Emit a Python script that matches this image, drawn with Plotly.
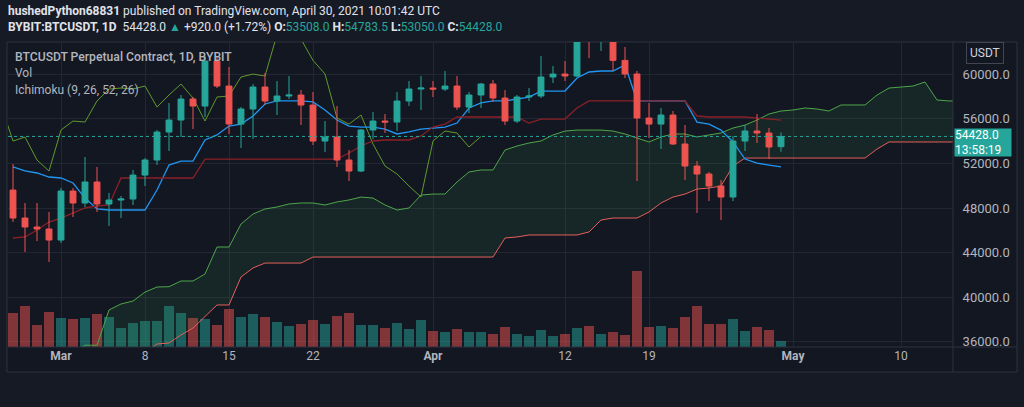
import pandas as pd
import plotly.graph_objects as go

# colours (TradingView dark theme)
BG = '#131722'
OUTER = '#161a25'
GRID = '#232733'
FRAME = '#2f333e'
TEXT = '#b2b5be'
UP = '#26a69a'
DOWN = '#ef5350'
FONT = 'Roboto'

# daily candles, Feb 25 - Apr 30 2021
dates = pd.date_range('2021-02-25', '2021-04-30', freq='D')

opens = [
    49620, 47110, 46305, 46125,
    45135, 49530, 48455, 50340, 48365, 48725, 48815, 50965, 52315, 54825,
    55900, 57785, 57155, 61190, 58950, 55540, 56890, 58860, 57605, 58055,
    58140, 57245, 54015, 54375, 52315, 51325, 55005, 55810, 55720, 57605, 58680,
    58770, 58680, 58950, 57065, 58145, 59130, 57875, 55810, 57965, 58055,
    59760, 60025, 59850, 63575, 62960, 63160, 61250, 60030, 56080, 55540,
    56350, 53750, 51775, 51055, 49980, 48995, 54015, 54915, 54735, 53508,
]
highs = [
    51955, 48455, 48455, 47650,
    49800, 49800, 52580, 51685, 49355, 49085, 51415, 52490, 55005, 57425,
    58145, 57965, 61640, 61550, 60655, 57065, 59130, 60115, 59400, 59850,
    58590, 58415, 55810, 57155, 53210, 55095, 56620, 56440, 58415, 59400, 59850,
    59400, 60295, 59850, 58415, 59220, 59490, 58590, 58145, 58770, 61640,
    60745, 61190, 63800, 64850, 63800, 63520, 62450, 60300, 57425, 56975,
    56710, 55450, 52225, 51235, 50520, 54465, 55450, 56440, 55185, 54783.5,
]
lows = [
    46750, 44060, 45045, 43165,
    44870, 47200, 48100, 47650, 46395, 47110, 48275, 49980, 51865, 53120,
    54375, 55095, 56170, 58770, 54645, 53390, 54195, 57245, 56350, 57785,
    55450, 53660, 53030, 51685, 50430, 51235, 54195, 54735, 54915, 57155, 56800,
    57965, 58500, 56800, 56530, 56975, 57515, 55450, 55630, 57605, 57875,
    59220, 59400, 59760, 61450, 62100, 60300, 59670, 50430, 54285, 53300,
    53660, 50520, 47560, 48635, 46930, 48635, 53120, 53840, 52405, 53050,
]
closes = [
    47110, 46305, 46125, 45135,
    49530, 48455, 50340, 48365, 48725, 48815, 50965, 52315, 54825, 55900,
    57785, 57155, 61190, 58950, 55540, 56890, 58860, 57605, 58055, 58140,
    57245, 54015, 54375, 52315, 51325, 55005, 55810, 55720, 57605, 58680, 58770,
    58680, 58950, 57065, 58145, 59130, 57875, 55810, 57965, 58055, 59760,
    60025, 59850, 63575, 62960, 63160, 61250, 60030, 56080, 55540, 56350,
    53750, 51775, 51055, 49980, 48995, 54015, 54915, 54735, 53480, 54428,
]
# volume, thousand contracts
volume = [
    51, 61.5, 33, 52.5,
    43.5, 42, 43.5, 49.5, 45, 28.5, 36, 39, 39, 61.5,
    51, 43.5, 42, 33, 57, 45, 49.5, 45, 37.5, 31.5,
    34.5, 40.5, 34.5, 46.5, 51, 33, 33, 28.5, 36, 27, 40.5,
    24, 22.5, 27, 22.5, 22.5, 19.5, 30, 19.5, 16.5, 25.5,
    16.5, 19.5, 28.5, 31.5, 19.5, 22.5, 18, 114, 30, 31.5,
    28.5, 45, 61.5, 34.5, 34.5, 42, 24, 30, 25.5, 9,
]

# Ichimoku (9, 26, 52, 26)
tenkan = [
    51690, 51330, 51150, 50790,
    50700, 50250, 48900, 47920, 47830, 47830, 47830, 47830, 49620, 51860,
    52220, 52220, 54110, 54560, 55360, 55540, 56260, 57340, 57610, 57610,
    57610, 57520, 56800, 55900, 55360, 55270, 55270, 55090, 54650, 54830, 55090,
    55180, 55270, 55630, 56980, 57430, 57610, 57610, 57790, 57960, 58500,
    58500, 58500, 59670, 60210, 60300, 60300, 60840, 57610, 57610, 57610,
    57610, 57610, 55720, 55540, 55000, 53930, 52400, 52040, 51860, 51690,
]
kijun = [
    45320, 45410, 46030, 46750,
    47110, 47560, 48010, 48190, 48280, 50700, 50700, 50700, 50700, 50700,
    50700, 50700, 52400, 52400, 52400, 52400, 52400, 52400, 52400, 52400,
    52400, 52400, 52400, 52400, 52940, 53570, 54020, 54110, 54110, 54110, 54470,
    55270, 55540, 56170, 56170, 56170, 56170, 56170, 56170, 55630, 55990,
    55990, 55990, 56980, 57610, 57610, 57610, 57610, 57610, 57610, 57610,
    57610, 57610, 56260, 56170, 56170, 56170, 56170, 56080, 55990, 55900,
]
cloud_dates = pd.date_range('2021-03-02', '2021-05-15', freq='D')
senkou_a = [
    35000, 35700, 35700, 38860, 39400, 39660, 40470, 40920, 40950, 41460,
    41460, 42090, 44510, 44510, 46570, 47470, 47920, 48100, 48370, 48460,
    48460, 48280, 48550, 48730, 48990, 48900, 48280, 47830, 48010, 49170,
    49260, 49260, 50340, 51240, 51420, 51420, 53210, 53570, 53840, 54020,
    54560, 54910, 55000, 55000, 55000, 54910, 54650, 54290, 53930, 54380,
    54650, 54650, 54380, 54560, 54740, 55180, 55450, 55900, 56440, 56710,
    56800, 56980, 56890, 56710, 57250, 57250, 57250, 58140, 58770, 58860,
    58950, 59310, 57700, 57610, 57610,
]
senkou_b = [
    34000, 34000, 34000, 34000, 34000, 34000, 35000, 35810, 35900, 36620,
    37240, 38230, 39310, 39310, 41820, 42630, 43070, 43070, 43070, 43070,
    43610, 43610, 43610, 43610, 43610, 43610, 43610, 43610, 43610, 43610,
    43610, 43610, 43610, 43610, 43610, 43610, 45320, 45410, 45590, 45590,
    45590, 45590, 45590, 45860, 46930, 47110, 47110, 47110, 47650, 48460,
    48990, 49260, 49710, 49800, 49980, 51780, 52490, 52490, 52490, 52490,
    52490, 52490, 52490, 52490, 52490, 52490, 52490, 53300, 53930, 53930,
    53930, 53930, 53930, 53930, 53930,
]
# lagging span: closes displaced 25 bars back
chikou_dates = dates - pd.Timedelta(days=25)

price_ticks = [36000, 40000, 44000, 48000, 52000, 56000, 60000]
time_ticks = ['2021-03-01', '2021-03-08', '2021-03-15', '2021-03-22', '2021-04-01',
              '2021-04-12', '2021-04-19', '2021-05-01', '2021-05-10']
time_labels = ['<b>Mar</b>', '8', '15', '22', '<b>Apr</b>', '12', '19', '<b>May</b>', '10']

# page geometry (pixels)
W, H = 1024, 407
ML, MR, MT, MB = 8, 71, 42, 60


def xp(px):
    return (px - ML) / (W - ML - MR)


def yp(py):
    return (H - MB - py) / (H - MT - MB)


vol_colors = ['rgba(38,166,154,0.5)' if c >= o else 'rgba(239,83,80,0.5)'
              for o, c in zip(opens, closes)]

fig = go.Figure()

# volume on the base axis so it sits beneath everything
fig.add_trace(go.Bar(
    x=dates, y=volume, marker=dict(color=vol_colors, line=dict(width=0)),
    width=0.84 * 86400000, yaxis='y', hoverinfo='skip', showlegend=False,
))

# cloud + ichimoku lines
fig.add_trace(go.Scatter(
    x=cloud_dates, y=senkou_b, mode='lines', yaxis='y2',
    line=dict(color='#e4605a', width=1), hoverinfo='skip', showlegend=False,
))
fig.add_trace(go.Scatter(
    x=cloud_dates, y=senkou_a, mode='lines', yaxis='y2', fill='tonexty',
    fillcolor='rgba(67,160,71,0.11)',
    line=dict(color='#4ea64a', width=1), hoverinfo='skip', showlegend=False,
))
fig.add_trace(go.Scatter(
    x=chikou_dates, y=closes, mode='lines', yaxis='y2',
    line=dict(color='#5f9a2c', width=1), hoverinfo='skip', showlegend=False,
))
fig.add_trace(go.Scatter(
    x=dates, y=tenkan, mode='lines', yaxis='y2',
    line=dict(color='#2196f3', width=1.3), hoverinfo='skip', showlegend=False,
))
fig.add_trace(go.Scatter(
    x=dates, y=kijun, mode='lines', yaxis='y2',
    line=dict(color='#8a2028', width=1.3), hoverinfo='skip', showlegend=False,
))

# candles on their own overlay so they draw over the indicator
fig.add_trace(go.Candlestick(
    x=dates, open=opens, high=highs, low=lows, close=closes, yaxis='y3',
    increasing=dict(line=dict(color=UP, width=1), fillcolor=UP),
    decreasing=dict(line=dict(color=DOWN, width=1), fillcolor=DOWN),
    whiskerwidth=0, hoverinfo='skip', showlegend=False,
))

price_range = [35540, 62900]
last = closes[-1]

shapes = [
    # chart frame
    dict(type='rect', xref='paper', yref='paper', x0=xp(7), x1=xp(1017),
         y0=yp(372), y1=yp(42), line=dict(color=FRAME, width=1),
         fillcolor=BG, layer='below'),
    # price scale separator
    dict(type='line', xref='paper', yref='paper', x0=1, x1=1,
         y0=yp(372), y1=1, line=dict(color=FRAME, width=1)),
    # time scale separator
    dict(type='line', xref='paper', yref='paper', x0=0, x1=xp(1017),
         y0=0, y1=0, line=dict(color=FRAME, width=1)),
    # last price line
    dict(type='line', xref='paper', yref='y2', x0=0, x1=1, y0=last, y1=last,
         line=dict(color=UP, width=1, dash='dot')),
]

teal = f'<span style="color:{UP}">'
header2 = (
    '<b>BYBIT:BTCUSDT, 1D</b>  54428.0 ' + teal + '▲</span> +920.0 (+1.72%) '
    '<b>O:</b>' + teal + '53508.0</span> <b>H:</b>' + teal + '54783.5</span> '
    '<b>L:</b>' + teal + '53050.0</span> <b>C:</b>' + teal + '54428.0</span>'
)

annotations = [
    dict(text='<b>hushedPython68831</b> published on TradingView.com, April 30, 2021 10:01:42 UTC',
         x=xp(6), y=yp(11), xanchor='left', yanchor='middle',
         font=dict(size=12, color='#e1e3ea')),
    dict(text=header2, x=xp(6), y=yp(27), xanchor='left', yanchor='middle',
         font=dict(size=12, color='#e1e3ea')),
    dict(text='BTCUSDT Perpetual Contract, 1D, BYBIT', x=xp(13), y=yp(57),
         xanchor='left', yanchor='middle', font=dict(size=12.2, color=TEXT,
                                                     family=FONT + ' Medium, ' + FONT)),
    dict(text='Vol', x=xp(13), y=yp(73), xanchor='left', yanchor='middle',
         font=dict(size=12, color=TEXT)),
    dict(text='Ichimoku (9, 26, 52, 26)', x=xp(13), y=yp(90), xanchor='left',
         yanchor='middle', font=dict(size=12, color=TEXT)),
    dict(text='USDT', x=xp(985), y=yp(53.5), xanchor='center', yanchor='middle',
         font=dict(size=12, color='#d1d4dc'), bordercolor='#434651',
         borderwidth=1, borderpad=3, bgcolor=BG),
    dict(text='54428.0<br>13:58:19', x=1, y=last, yref='y2', xanchor='left',
         yanchor='top', xshift=1, yshift=8, align='left', valign='middle',
         font=dict(size=12, color='#ffffff'), bgcolor=UP, borderpad=0,
         width=56, height=27),
]
for a in annotations:
    a.setdefault('xref', 'paper')
    a.setdefault('yref', 'paper')
    a['showarrow'] = False

fig.update_layout(
    width=W, height=H,
    margin=dict(l=ML, r=MR, t=MT, b=MB),
    paper_bgcolor=OUTER, plot_bgcolor=BG,
    font=dict(family=FONT, size=12, color=TEXT),
    showlegend=False, bargap=0,
    xaxis=dict(
        type='date', range=['2021-02-24 14:00', '2021-05-14 08:00'],
        tickvals=time_ticks, ticktext=time_labels,
        showgrid=True, gridcolor=GRID, gridwidth=1, zeroline=False,
        showline=False, ticks='', tickfont=dict(size=12, color=TEXT),
        rangeslider=dict(visible=False), fixedrange=True,
    ),
    yaxis=dict(range=[0, 457.5], visible=False, showgrid=False, fixedrange=True),
    yaxis2=dict(
        overlaying='y', side='right', range=price_range,
        tickvals=price_ticks, tickformat='.1f',
        showgrid=True, gridcolor=GRID, zeroline=False, showline=False,
        ticks='outside', ticklen=6, tickcolor=BG,
        tickfont=dict(size=13, color=TEXT), fixedrange=True,
    ),
    yaxis3=dict(overlaying='y', range=price_range, visible=False,
                showgrid=False, fixedrange=True),
    shapes=shapes,
    annotations=annotations,
)

fig.write_html('out.html', config={'displayModeBar': False},
               post_script="document.body.style.margin='0';")
